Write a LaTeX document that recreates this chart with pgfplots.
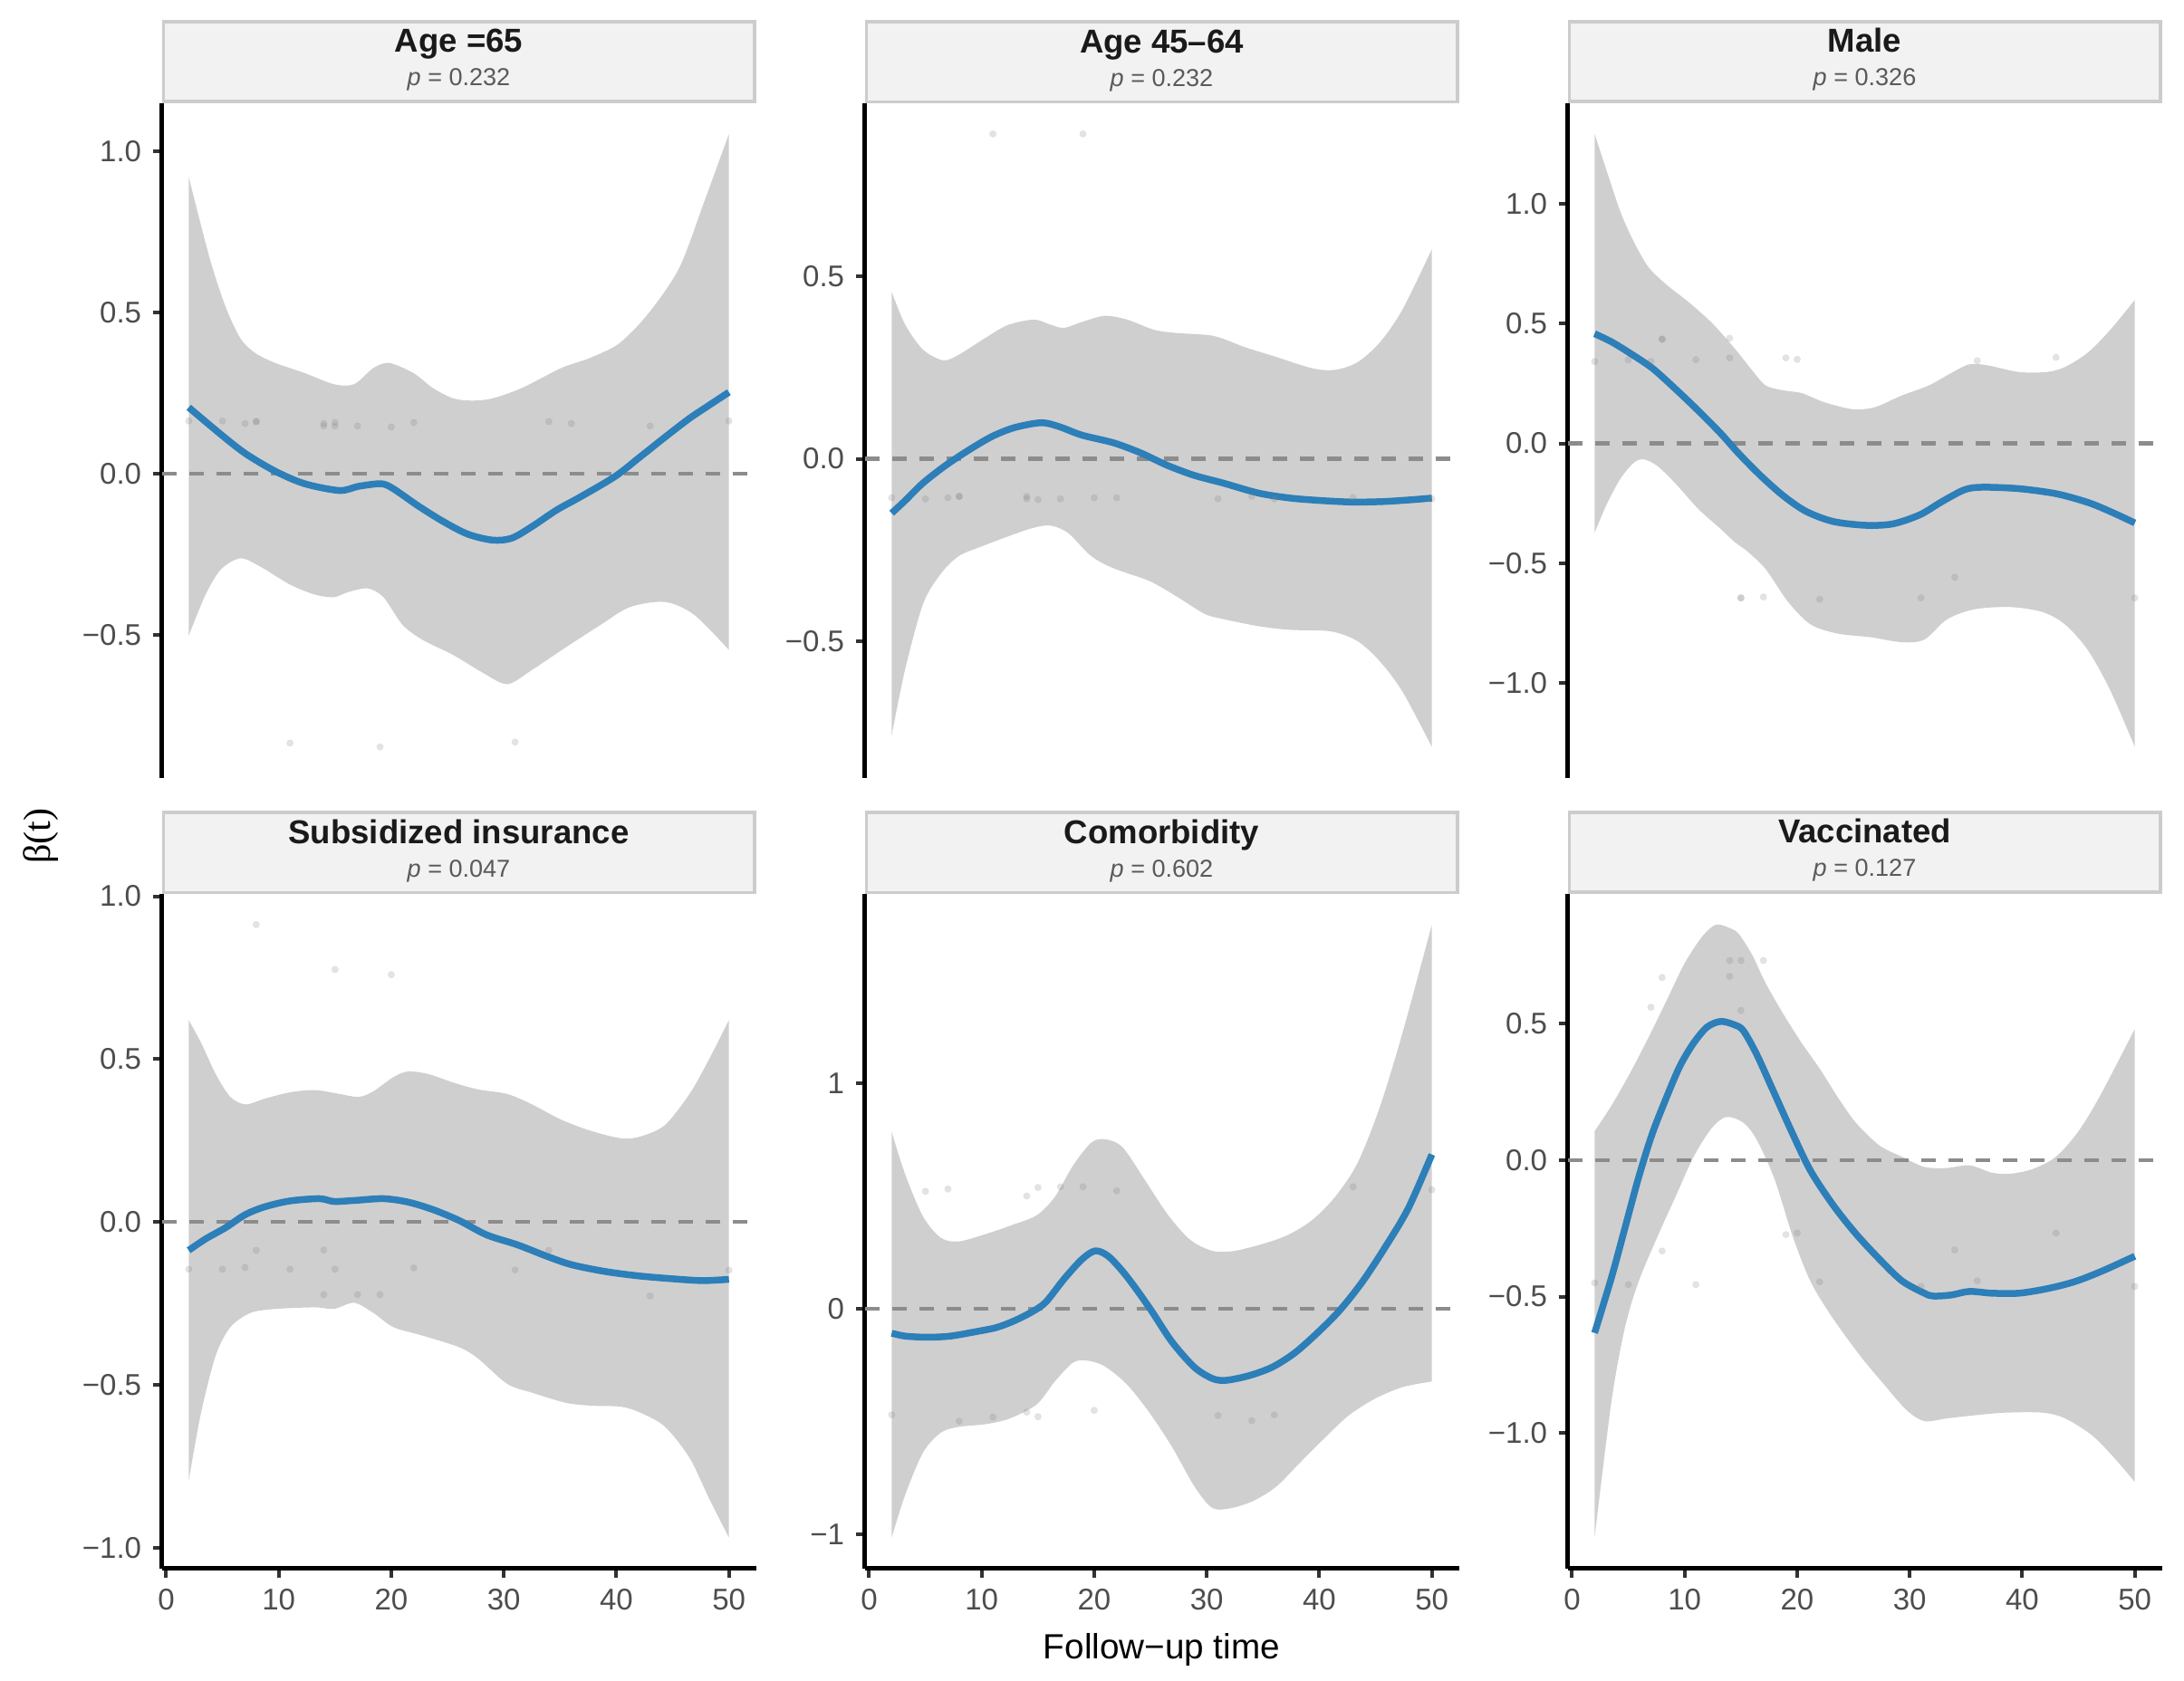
\documentclass[border=0pt]{standalone}
\usepackage{pgfplots}
\pgfplotsset{compat=1.18}
\usepgfplotslibrary{fillbetween}
\usepackage{fontspec}
\setmainfont{Liberation Sans}
\newfontfamily\seriffont{Liberation Serif}
\definecolor{ribbon}{RGB}{208,207,207}
\definecolor{blueline}{RGB}{44,127,184}
\definecolor{zeroline}{RGB}{140,140,140}
\definecolor{stripfill}{RGB}{242,242,242}
\definecolor{stripdraw}{RGB}{204,204,204}
\definecolor{ticklab}{RGB}{77,77,77}
\definecolor{tickcol}{RGB}{51,51,51}
\definecolor{titlecol}{RGB}{26,26,26}
\definecolor{subcol}{RGB}{90,90,90}
\definecolor{dotcol}{RGB}{128,128,128}

\pgfplotsset{
 panel/.style={
  scale only axis, width=65.6mm, height=74.45mm, anchor=south west,
  xmin=-0.4, xmax=52.4, clip=false,
  axis y line*=left,
  axis line style={-, line width=0.45mm, black},
  tick align=outside, major tick length=1.0mm,
  tick style={line width=0.4mm, color=tickcol},
  minor tick num=0,
  tick label style={font=\fontsize{9.4}{11}\selectfont, color=ticklab},
  scaled ticks=false,
 },
 toprow/.style={axis x line=none, xtick=\empty},
 botrow/.style={axis x line*=bottom, xtick={0,10,20,30,40,50}, xticklabels={0,10,20,30,40,50}},
 rib/.style={fill=ribbon, draw=none},
 est/.style={blueline, line width=0.75mm, smooth},
 dots/.style={only marks, mark=*, mark size=0.38mm, color=dotcol, opacity=0.22, mark options={solid, fill=dotcol, draw=dotcol, line width=0.01pt}},
 zero/.style={zeroline, line width=0.43mm, dash pattern=on 1.6mm off 1.4mm},
}
\newcommand{\strip}[2]{%
 \draw[stripdraw, fill=stripfill, line width=0.35mm] ([xshift=0.175mm,yshift=0.175mm]rel axis cs:0,1) rectangle ([xshift=-0.175mm,yshift=9.02mm]rel axis cs:1,1);
 \node[anchor=base, font=\fontsize{10.4}{12}\selectfont\bfseries, text=titlecol, inner sep=0pt] at ([yshift=5.6mm]rel axis cs:0.5,1) {#1};
 \node[anchor=base, font=\fontsize{7.7}{9}\selectfont, text=subcol, inner sep=0pt] at ([yshift=1.9mm]rel axis cs:0.5,1) {\textit{p} = #2};
}

\begin{document}
\begin{tikzpicture}

% ---------- Panel 1: Age =65
\begin{axis}[panel, toprow, at={(17.85mm,99.65mm)}, ymin=-0.943, ymax=1.150,
  ytick={-0.5,0,0.5,1.0}, yticklabels={−0.5,0.0,0.5,1.0}]
\addplot[name path=up, draw=none, smooth] coordinates {(2,0.922)(2.66,0.83)(3.97,0.656)(5.3,0.516)(6.6,0.42)(7.9,0.375)(9.68,0.344)(12.3,0.3125)(14.9,0.278)(16.7,0.278)(18.4,0.328)(19.8,0.344)(21.97,0.3125)(23.7,0.266)(25.5,0.234)(27.2,0.227)(29,0.234)(31.6,0.266)(35.1,0.328)(37.7,0.36)(40.3,0.406)(42.9,0.5)(45.6,0.64)(47.8,0.844)(50,1.055)};
\addplot[name path=lo, draw=none, smooth] coordinates {(2,-0.503)(3.5,-0.375)(4.86,-0.297)(6.6,-0.2625)(8.4,-0.289)(11.0,-0.344)(13.2,-0.375)(14.9,-0.383)(16.2,-0.367)(17.9,-0.356)(19.3,-0.383)(21.0,-0.469)(22.8,-0.516)(25.5,-0.5625)(28.1,-0.617)(30.3,-0.653)(32.5,-0.609)(35.5,-0.539)(38.6,-0.469)(41.2,-0.414)(44.3,-0.398)(46.9,-0.4375)(50,-0.547)};
\addplot[rib] fill between[of=up and lo];
\addplot[zero] coordinates {(-0.4,0)(52.4,0)};
\addplot[dots] coordinates {(2,0.164)(5,0.164)(7,0.156)(8,0.162)(8,0.162)(14,0.156)(14,0.148)(15,0.159)(15,0.148)(17,0.148)(20,0.145)(22,0.159)(34,0.162)(36,0.156)(43,0.148)(50,0.164)(11,-0.836)(19,-0.848)(31,-0.833)};
\addplot[est] coordinates {(2,0.206)(4.86,0.122)(7.05,0.0625)(9.68,0.008)(12.3,-0.031)(15.4,-0.052)(17.1,-0.039)(19.1,-0.031)(20.2,-0.047)(22.4,-0.10)(24.6,-0.148)(26.8,-0.1875)(29.0,-0.206)(30.7,-0.20)(32.5,-0.164)(34.7,-0.1125)(36.9,-0.07)(39.9,-0.008)(42.1,0.052)(44.3,0.113)(46.5,0.172)(48.3,0.214)(50,0.253)};
\strip{Age =65}{0.232}
\end{axis}

% ---------- Panel 2: Age 45-64
\begin{axis}[panel, toprow, at={(95.45mm,99.65mm)}, ymin=-0.874, ymax=0.975,
  ytick={-0.5,0,0.5}, yticklabels={−0.5,0.0,0.5}]
\addplot[name path=up, draw=none, smooth] coordinates {(2,0.458)(3.2,0.368)(4.8,0.299)(6.6,0.270)(8.0,0.286)(10.1,0.327)(12.1,0.364)(13.7,0.378)(14.9,0.381)(16.1,0.368)(17.3,0.359)(18.9,0.375)(20.9,0.392)(22.9,0.382)(25.3,0.354)(27.3,0.345)(30.6,0.337)(33.4,0.306)(36.2,0.279)(39.4,0.248)(41.4,0.244)(43.4,0.265)(45.4,0.32)(47.4,0.41)(50,0.575)};
\addplot[name path=lo, draw=none, smooth] coordinates {(2,-0.759)(3.2,-0.577)(4.8,-0.397)(6.4,-0.314)(8.0,-0.266)(10.1,-0.239)(12.5,-0.211)(14.5,-0.19)(16.1,-0.183)(17.7,-0.204)(19.7,-0.266)(21.7,-0.30)(24.9,-0.335)(27.3,-0.377)(29.8,-0.425)(31.4,-0.439)(34.6,-0.459)(37.4,-0.469)(41.0,-0.473)(43.4,-0.50)(45.4,-0.556)(47.4,-0.639)(50,-0.790)};
\addplot[rib] fill between[of=up and lo];
\addplot[zero] coordinates {(-0.4,0)(52.4,0)};
\addplot[dots] coordinates {(2,-0.107)(5,-0.110)(7,-0.107)(8,-0.103)(8,-0.103)(14,-0.103)(14,-0.110)(15,-0.112)(17,-0.110)(20,-0.107)(22,-0.107)(31,-0.110)(34,-0.103)(36,-0.110)(43,-0.106)(50,-0.110)(11,0.891)(19,0.891)};
\addplot[est] coordinates {(2,-0.149)(3.2,-0.1145)(4.8,-0.066)(6.8,-0.018)(8.8,0.023)(10.9,0.061)(12.9,0.0855)(15.3,0.099)(16.9,0.088)(18.9,0.065)(21.7,0.044)(24.1,0.0166)(26.5,-0.018)(28.9,-0.0455)(31.4,-0.066)(34.6,-0.094)(37.4,-0.1076)(40.2,-0.1145)(43.0,-0.1186)(45.8,-0.117)(48.3,-0.112)(50,-0.1076)};
\strip{Age 45–64}{0.232}
\end{axis}

% ---------- Panel 3: Male
\begin{axis}[panel, toprow, at={(173.05mm,99.65mm)}, ymin=-1.395, ymax=1.42,
  ytick={-1,-0.5,0,0.5,1.0}, yticklabels={−1.0,−0.5,0.0,0.5,1.0}]
\addplot[name path=up, draw=none, smooth] coordinates {(2,1.292)(3.1,1.134)(4.3,0.966)(5.5,0.84)(6.8,0.735)(8.4,0.662)(10.4,0.588)(12.4,0.504)(14.4,0.399)(16.0,0.305)(17.2,0.242)(18.8,0.221)(20.4,0.21)(22.4,0.172)(24.9,0.143)(26.9,0.151)(29.3,0.2)(31.7,0.242)(33.7,0.294)(35.3,0.33)(36.9,0.326)(39.7,0.298)(42.2,0.298)(43.8,0.319)(45.8,0.378)(47.8,0.473)(50,0.599)};
\addplot[name path=lo, draw=none, smooth] coordinates {(2,-0.372)(3.1,-0.252)(4.3,-0.147)(5.5,-0.08)(6.4,-0.067)(7.6,-0.095)(9.2,-0.168)(11.2,-0.273)(13.2,-0.357)(14.4,-0.41)(15.6,-0.452)(17.2,-0.525)(19.2,-0.662)(21.2,-0.756)(23.6,-0.794)(26.5,-0.809)(29.3,-0.83)(31.3,-0.819)(33.3,-0.735)(35.7,-0.693)(38.9,-0.683)(41.8,-0.704)(43.8,-0.756)(45.8,-0.861)(47.8,-1.029)(50,-1.267)};
\addplot[rib] fill between[of=up and lo];
\addplot[zero] coordinates {(-0.4,0)(52.4,0)};
\addplot[dots] coordinates {(2,0.342)(5,0.349)(7,0.342)(8,0.435)(8,0.435)(11,0.349)(14,0.439)(14,0.357)(19,0.357)(20,0.351)(36,0.345)(43,0.359)(15,-0.645)(15,-0.645)(17,-0.641)(22,-0.651)(31,-0.645)(34,-0.559)(50,-0.645)};
\addplot[est] coordinates {(2,0.458)(3.5,0.424)(5.1,0.378)(7.1,0.315)(9.1,0.231)(11.2,0.137)(13.2,0.042)(14.8,-0.042)(16.8,-0.137)(18.8,-0.22)(20.8,-0.284)(23.2,-0.326)(26.1,-0.342)(28.5,-0.336)(30.9,-0.298)(32.9,-0.242)(34.9,-0.193)(36.5,-0.183)(39.7,-0.189)(43.0,-0.21)(45.8,-0.246)(47.8,-0.284)(50,-0.332)};
\strip{Male}{0.326}
\end{axis}

% ---------- Panel 4: Subsidized insurance
\begin{axis}[panel, botrow, at={(17.85mm,12.35mm)}, ymin=-1.063, ymax=1.007,
  ytick={-1,-0.5,0,0.5,1.0}, yticklabels={−1.0,−0.5,0.0,0.5,1.0}]
\addplot[name path=up, draw=none, smooth] coordinates {(2,0.62)(3.1,0.55)(4.4,0.454)(5.7,0.384)(7.05,0.361)(8.8,0.379)(11.0,0.398)(13.2,0.405)(15.4,0.393)(17.1,0.384)(18.4,0.401)(20.2,0.445)(21.5,0.462)(23.3,0.454)(25.5,0.428)(27.7,0.407)(30.3,0.393)(32.5,0.361)(35.1,0.314)(37.8,0.279)(40.4,0.257)(42.1,0.262)(44.3,0.297)(46.5,0.393)(48.2,0.497)(50,0.62)};
\addplot[name path=lo, draw=none, smooth] coordinates {(2,-0.794)(3.1,-0.585)(4.4,-0.41)(5.7,-0.323)(7.5,-0.279)(9.7,-0.267)(13.2,-0.262)(14.9,-0.267)(16.7,-0.248)(18.4,-0.279)(20.2,-0.323)(22.8,-0.349)(26.0,-0.384)(27.7,-0.419)(30.3,-0.497)(32.5,-0.524)(35.5,-0.555)(37.8,-0.564)(40.4,-0.567)(42.1,-0.585)(44.3,-0.628)(46.5,-0.724)(48.2,-0.846)(50,-0.969)};
\addplot[rib] fill between[of=up and lo];
\addplot[zero] coordinates {(-0.4,0)(52.4,0)};
\addplot[dots] coordinates {(2,-0.145)(5,-0.145)(7,-0.14)(8,-0.087)(11,-0.145)(14,-0.086)(14,-0.223)(15,-0.145)(17,-0.223)(19,-0.223)(22,-0.141)(31,-0.147)(34,-0.087)(43,-0.227)(50,-0.148)(8,0.913)(15,0.775)(20,0.759)};
\addplot[est] coordinates {(2,-0.087)(3.5,-0.052)(5.3,-0.017)(7.05,0.023)(8.8,0.047)(11.0,0.0646)(13.6,0.0716)(14.9,0.063)(16.7,0.066)(19.3,0.0716)(21.5,0.061)(23.7,0.038)(26.0,0.005)(28.5,-0.040)(31.2,-0.070)(33.8,-0.105)(36.0,-0.131)(39.0,-0.152)(42.1,-0.166)(45.6,-0.176)(47.8,-0.18)(50,-0.176)};
\strip{Subsidized insurance}{0.047}
\end{axis}

% ---------- Panel 5: Comorbidity
\begin{axis}[panel, botrow, at={(95.45mm,12.35mm)}, ymin=-1.150, ymax=1.839,
  ytick={-1,0,1}, yticklabels={−1,0,1}]
\addplot[name path=up, draw=none, smooth] coordinates {(2,0.785)(3.2,0.596)(4.8,0.408)(6.4,0.314)(8.0,0.299)(10.4,0.332)(12.9,0.375)(14.9,0.415)(16.5,0.496)(18.1,0.634)(19.7,0.735)(20.9,0.752)(22.5,0.717)(24.5,0.571)(26.5,0.42)(28.5,0.307)(30.5,0.257)(32.5,0.257)(35.4,0.294)(37.4,0.332)(39.4,0.395)(41.4,0.496)(43.4,0.647)(45.4,0.898)(47.4,1.225)(50,1.703)};
\addplot[name path=lo, draw=none, smooth] coordinates {(2,-1.014)(3.2,-0.825)(4.8,-0.636)(6.4,-0.548)(8.0,-0.523)(10.4,-0.511)(12.5,-0.486)(14.9,-0.423)(16.5,-0.322)(18.1,-0.239)(19.3,-0.229)(20.9,-0.254)(22.9,-0.335)(24.9,-0.46)(26.9,-0.611)(28.9,-0.787)(30.5,-0.883)(32.2,-0.883)(34.2,-0.85)(36.2,-0.787)(38.2,-0.686)(40.2,-0.586)(42.6,-0.473)(45.0,-0.397)(47.4,-0.347)(50,-0.322)};
\addplot[rib] fill between[of=up and lo];
\addplot[zero] coordinates {(-0.4,0)(52.4,0)};
\addplot[dots] coordinates {(5,0.521)(7,0.531)(14,0.5)(15,0.538)(17,0.541)(19,0.541)(22,0.523)(43,0.541)(50,0.528)(2,-0.47)(8,-0.498)(11,-0.48)(14,-0.458)(15,-0.478)(20,-0.45)(31,-0.473)(34,-0.496)(36,-0.47)};
\addplot[est] coordinates {(2,-0.108)(3.2,-0.121)(5.2,-0.126)(7.2,-0.121)(9.3,-0.103)(11.3,-0.083)(12.9,-0.053)(14.5,-0.0126)(15.7,0.030)(17.3,0.131)(18.9,0.219)(20.1,0.257)(21.3,0.231)(22.9,0.143)(24.9,0.005)(26.9,-0.146)(28.9,-0.259)(30.5,-0.309)(31.7,-0.317)(33.7,-0.297)(35.8,-0.259)(37.8,-0.196)(39.8,-0.108)(41.8,-0.0075)(43.8,0.118)(45.8,0.269)(47.9,0.445)(50,0.684)};
\strip{Comorbidity}{0.602}
\end{axis}

% ---------- Panel 6: Vaccinated
\begin{axis}[panel, botrow, at={(173.05mm,12.35mm)}, ymin=-1.495, ymax=0.975,
  ytick={-1,-0.5,0,0.5}, yticklabels={−1.0,−0.5,0.0,0.5}]
\addplot[name path=up, draw=none, smooth] coordinates {(2,0.106)(3.5,0.2)(5.1,0.315)(6.8,0.45)(8.4,0.585)(10.0,0.721)(11.6,0.821)(12.8,0.8625)(14.0,0.85)(14.8,0.829)(16.0,0.752)(17.2,0.648)(18.8,0.533)(20.4,0.429)(22.0,0.335)(23.6,0.231)(25.2,0.1375)(27.3,0.054)(29.3,0.0125)(31.3,-0.025)(33.3,-0.029)(35.3,-0.019)(37.3,-0.046)(38.9,-0.05)(40.9,-0.033)(43.0,0.0125)(45.0,0.106)(47.0,0.242)(50,0.481)};
\addplot[name path=lo, draw=none, smooth] coordinates {(2,-1.383)(3.5,-0.883)(4.7,-0.6125)(5.9,-0.446)(7.6,-0.279)(9.2,-0.133)(10.8,0.0125)(12.4,0.117)(13.7,0.158)(15.2,0.1375)(16.4,0.075)(18.0,-0.071)(19.6,-0.279)(21.2,-0.446)(23.2,-0.581)(25.6,-0.717)(27.7,-0.821)(29.7,-0.915)(31.3,-0.956)(33.3,-0.946)(35.7,-0.935)(38.5,-0.925)(41.8,-0.925)(43.8,-0.946)(46.2,-1.008)(48.2,-1.092)(50,-1.179)};
\addplot[rib] fill between[of=up and lo];
\addplot[zero] coordinates {(-0.4,0)(52.4,0)};
\addplot[dots] coordinates {(2,-0.45)(5,-0.456)(7,0.56)(8,0.669)(8,-0.333)(11,-0.456)(14,0.731)(14,0.673)(15,0.731)(15,0.548)(17,0.731)(19,-0.273)(20,-0.267)(22,-0.446)(31,-0.4625)(34,-0.329)(36,-0.442)(43,-0.267)(50,-0.4625)};
\addplot[est] coordinates {(2,-0.633)(3.5,-0.43)(4.7,-0.248)(5.9,-0.065)(7.1,0.094)(8.4,0.231)(9.6,0.346)(10.8,0.429)(12.0,0.4875)(13.2,0.508)(14.4,0.496)(15.2,0.475)(16.4,0.3875)(18.0,0.242)(19.6,0.096)(21.2,-0.04)(23.2,-0.165)(25.2,-0.269)(27.3,-0.3625)(29.3,-0.442)(31.3,-0.4875)(32.1,-0.498)(33.7,-0.494)(35.3,-0.481)(37.3,-0.4875)(39.7,-0.4875)(42.2,-0.471)(44.6,-0.446)(47.0,-0.408)(50,-0.352)};
\strip{Vaccinated}{0.127}
\end{axis}

% axis titles
\node[rotate=90, font=\seriffont\fontsize{12}{14}\selectfont, anchor=center] at (4.5mm,93.2mm) {β(t)};
\node[font=\fontsize{11}{13}\selectfont, anchor=base, text=black] at (128.25mm,2.4mm) {Follow−up time};
\pgfresetboundingbox
\useasboundingbox (0,0) rectangle (241.1mm,185.5mm);
\end{tikzpicture}
\end{document}
